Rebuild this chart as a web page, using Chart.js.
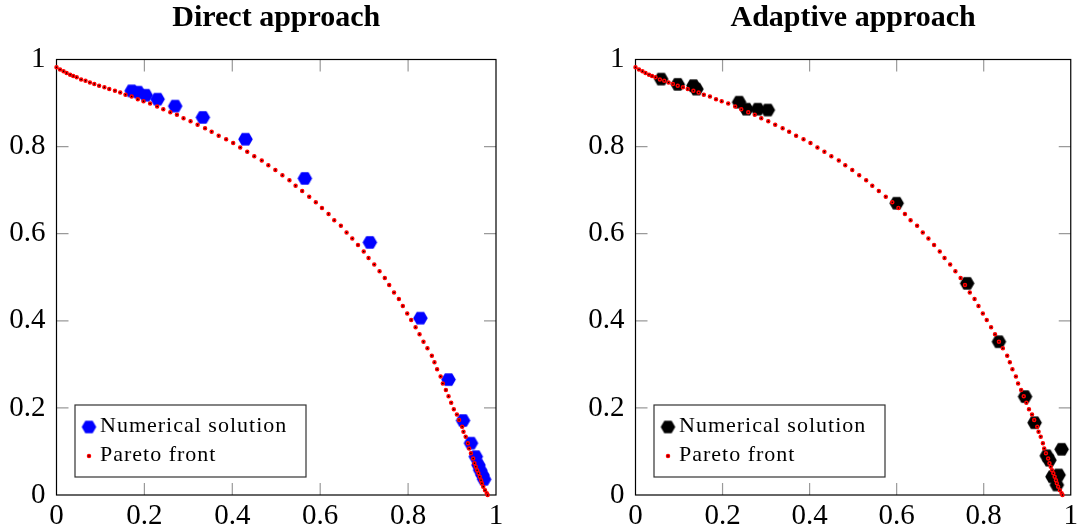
<!DOCTYPE html>
<html>
<head>
<meta charset="utf-8">
<script src="https://cdn.jsdelivr.net/npm/chart.js@4.4.1/dist/chart.umd.min.js"></script>
<style>
  html, body { margin: 0; padding: 0; background: #fff; }
  body { position: relative; width: 1082px; height: 530px; overflow: hidden; }
  .panel { position: absolute; top: 0; }
</style>
</head>
<body>
<div class="panel" style="left:0"><canvas id="direct" width="541" height="530" style="width:541px;height:530px"></canvas></div>
<div class="panel" style="left:579px"><canvas id="adaptive" width="503" height="530" style="width:503px;height:530px"></canvas></div>
<script>
// axis ticks (both axes, both panels)
const tickValues = [0, 0.2, 0.4, 0.6, 0.8, 1];

// Pareto front
const paretoX = [0.000,0.008,0.016,0.023,0.031,0.038,0.046,0.056,0.066,0.076,
                 0.086,0.097,0.109,0.120,0.133,0.145,0.157,0.171,0.185,0.198,
                 0.213,0.229,0.243,0.259,0.274,0.289,0.305,0.321,0.338,0.353,
                 0.369,0.386,0.402,0.418,0.434,0.450,0.467,0.482,0.498,0.514,
                 0.530,0.544,0.559,0.575,0.590,0.604,0.619,0.632,0.647,0.660,
                 0.673,0.686,0.699,0.710,0.723,0.735,0.747,0.757,0.768,0.779,
                 0.788,0.798,0.807,0.817,0.826,0.835,0.844,0.854,0.860,0.866,
                 0.874,0.879,0.886,0.892,0.898,0.904,0.911,0.916,0.923,0.926,
                 0.931,0.936,0.939,0.943,0.948,0.951,0.954,0.957,0.960,0.963,
                 0.966,0.968,0.971,0.975,0.979,0.981];
const paretoY = [0.982,0.977,0.973,0.969,0.965,0.962,0.959,0.954,0.951,0.947,
                 0.944,0.940,0.936,0.932,0.928,0.924,0.919,0.915,0.909,0.904,
                 0.899,0.892,0.886,0.879,0.873,0.865,0.858,0.850,0.842,0.834,
                 0.825,0.817,0.808,0.798,0.788,0.778,0.768,0.757,0.746,0.734,
                 0.723,0.710,0.698,0.685,0.672,0.659,0.645,0.631,0.618,0.603,
                 0.589,0.574,0.559,0.544,0.529,0.514,0.498,0.482,0.465,0.450,
                 0.434,0.417,0.402,0.385,0.369,0.352,0.337,0.320,0.305,0.289,
                 0.272,0.256,0.241,0.227,0.212,0.197,0.185,0.172,0.157,0.145,
                 0.134,0.119,0.107,0.096,0.084,0.073,0.065,0.057,0.050,0.042,
                 0.034,0.027,0.019,0.011,0.004,0.000];

// numerical solutions, direct approach (blue)
const directX = [0.171,0.186,0.203,0.230,0.270,0.333,0.430,0.565,0.713,0.828,0.892,0.925,0.943,0.954,0.960,0.964,0.969,0.973];
const directY = [0.928,0.925,0.918,0.909,0.893,0.867,0.817,0.727,0.580,0.406,0.265,0.171,0.119,0.088,0.069,0.057,0.046,0.036];

// numerical solutions, adaptive approach (black)
const adaptiveX = [0.059,0.097,0.133,0.140,0.238,0.255,0.281,0.304,0.600,0.762,0.835,0.895,0.917,0.945,0.951,0.979,0.958,0.972,0.968];
const adaptiveY = [0.955,0.943,0.940,0.932,0.902,0.886,0.886,0.884,0.670,0.486,0.352,0.226,0.166,0.090,0.080,0.105,0.042,0.046,0.023];

const serif = '"Liberation Serif", "DejaVu Serif", serif';

function toPoints(xs, ys) {
    return xs.map((x, i) => ({ x: x, y: ys[i] }));
}

// small filled hexagon used as marker for the numerical solutions
function hexMarker(color, r) {
    const c = document.createElement('canvas');
    const s = Math.ceil(2 * r) + 2;
    c.width = s;
    c.height = s;
    const g = c.getContext('2d');
    g.fillStyle = color;
    g.beginPath();
    for (let k = 0; k < 6; k++) {
        const t = k * Math.PI / 3;
        g.lineTo(s / 2 + r * Math.cos(t), s / 2 + r * Math.sin(t));
    }
    g.closePath();
    g.fill();
    return c;
}

// box frame + inward grey tick marks on all four sides
const axisFrame = {
    id: 'axisFrame',
    beforeDatasetsDraw(chart) {
        const { ctx, chartArea: a, scales: { x, y } } = chart;
        ctx.save();
        ctx.strokeStyle = '#9a9a9a';
        ctx.lineWidth = 1.2;
        ctx.beginPath();
        tickValues.slice(1, -1).forEach(v => {
            const px = x.getPixelForValue(v);
            const py = y.getPixelForValue(v);
            ctx.moveTo(px, a.bottom); ctx.lineTo(px, a.bottom - 12);
            ctx.moveTo(px, a.top); ctx.lineTo(px, a.top + 12);
            ctx.moveTo(a.left, py); ctx.lineTo(a.left + 12, py);
            ctx.moveTo(a.right, py); ctx.lineTo(a.right - 12, py);
        });
        ctx.stroke();
        ctx.strokeStyle = '#000';
        ctx.lineWidth = 1.2;
        ctx.strokeRect(a.left, a.top, a.right - a.left, a.bottom - a.top);
        ctx.restore();
    }
};

// legend drawn inside the plot, lower left corner
const boxLegend = {
    id: 'boxLegend',
    afterDatasetsDraw(chart, args, opts) {
        const { ctx, chartArea: a } = chart;
        const left = a.left + opts.offsetX;
        const top = a.bottom - opts.offsetY - opts.height;
        ctx.save();
        ctx.fillStyle = '#fff';
        ctx.fillRect(left, top, opts.width, opts.height);
        ctx.strokeStyle = '#333';
        ctx.lineWidth = 1.2;
        ctx.strokeRect(left, top, opts.width, opts.height);
        chart.data.datasets.forEach((ds, i) => {
            const cy = top + 22 + i * 29;
            ctx.fillStyle = ds.backgroundColor;
            ctx.strokeStyle = ds.borderColor;
            ctx.lineWidth = ds.borderWidth;
            Chart.helpers.drawPoint(ctx, {
                pointStyle: ds.pointStyle, radius: ds.pointRadius,
                borderWidth: ds.borderWidth, rotation: 0
            }, left + 14, cy);
            ctx.fillStyle = '#000';
            ctx.font = '22px ' + serif;
            ctx.letterSpacing = '1px';
            ctx.textBaseline = 'alphabetic';
            ctx.textAlign = 'left';
            ctx.fillText(ds.label, left + 25, cy + 5);
        });
        ctx.restore();
    }
};

function makeChart(id, title, xs, ys, color, padRight) {
    const ctx = document.getElementById(id).getContext('2d');
    return new Chart(ctx, {
        type: 'scatter',
        data: {
            datasets: [{
                label: 'Numerical solution',
                data: toPoints(xs, ys),
                pointStyle: hexMarker(color, 7.3),
                pointRadius: 7,
                backgroundColor: color,
                borderColor: color,
                borderWidth: 0,
                order: 1,
                clip: false
            }, {
                label: 'Pareto front',
                data: toPoints(paretoX, paretoY),
                pointStyle: 'circle',
                pointRadius: 1.5,
                backgroundColor: '#000',
                borderColor: '#ff0000',
                borderWidth: 1.5,
                order: 0,
                clip: false
            }]
        },
        options: {
            responsive: false,
            animation: false,
            devicePixelRatio: 1,
            layout: { padding: { left: 0, right: padRight, top: 0, bottom: 0 } },
            plugins: {
                legend: { display: false },
                tooltip: { enabled: false },
                title: {
                    display: true,
                    text: title,
                    fullSize: false,
                    color: '#000',
                    font: { family: serif, size: 30, weight: 'bold', lineHeight: 1 },
                    padding: { top: 3, bottom: 26.5 }
                },
                boxLegend: { offsetX: 18.5, offsetY: 18, width: 231, height: 72 }
            },
            scales: {
                x: {
                    type: 'linear',
                    min: 0, max: 1,
                    afterBuildTicks: s => { s.ticks = tickValues.map(v => ({ value: v })); },
                    afterFit: s => { s.height = 35; },
                    grid: { display: false, drawTicks: false },
                    border: { display: false },
                    ticks: {
                        color: '#000', padding: 4, maxRotation: 0, autoSkip: false,
                        font: { family: serif, size: 29 },
                        callback: v => String(v)
                    }
                },
                y: {
                    type: 'linear',
                    min: 0, max: 1,
                    afterBuildTicks: s => { s.ticks = tickValues.map(v => ({ value: v })); },
                    afterFit: s => { s.width = 56.5; },
                    grid: { display: false, drawTicks: false },
                    border: { display: false },
                    ticks: {
                        color: '#000', padding: 11, autoSkip: false,
                        font: { family: serif, size: 29 },
                        callback: v => String(v)
                    }
                }
            }
        },
        plugins: [axisFrame, boxLegend]
    });
}

makeChart('direct', 'Direct approach', directX, directY, '#0000ff', 45);
makeChart('adaptive', 'Adaptive approach', adaptiveX, adaptiveY, '#000000', 8);
</script>
</body>
</html>
